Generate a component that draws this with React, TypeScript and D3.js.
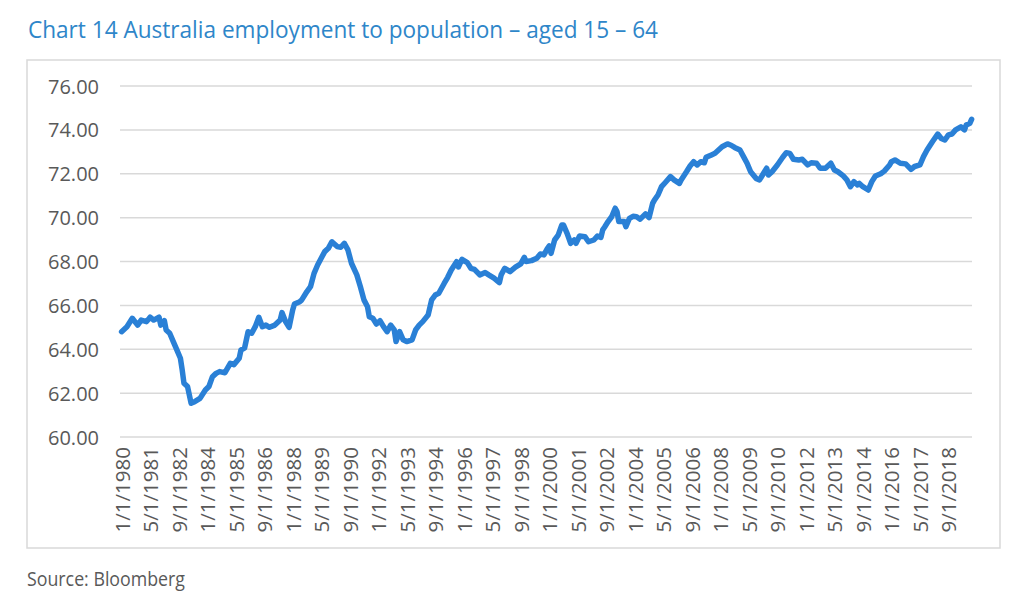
import React from "react";
import * as d3 from "d3";

const monthOffsets: number[] = [
  0, 3, 6, 9, 11, 14, 16, 18, 21, 22, 24, 25, 27, 29, 31, 33, 34, 35, 37, 39,
  41, 44, 47, 49, 51, 53, 55, 58, 61, 63, 66, 67, 69, 71, 73, 75, 77, 79, 81, 83,
  86, 89, 90, 92, 94, 96, 97, 100, 101, 104, 106, 108, 110, 112, 114, 116, 118, 121, 123, 125,
  127, 129, 132, 134, 136, 138, 139, 141, 143, 145, 147, 149, 151, 153, 154, 156, 158, 160, 163, 165,
  167, 169, 172, 174, 176, 178, 181, 183, 185, 188, 189, 191, 194, 196, 198, 201, 204, 206, 209, 212,
  213, 215, 218, 221, 224, 226, 227, 230, 233, 235, 237, 239, 240, 241, 243, 245, 247, 248, 250, 252,
  254, 255, 257, 260, 262, 265, 267, 269, 270, 271, 273, 275, 277, 278, 279, 282, 283, 285, 287, 289,
  291, 294, 296, 298, 299, 301, 303, 305, 308, 310, 313, 314, 317, 319, 321, 323, 325, 327, 328, 331,
  333, 335, 337, 340, 342, 344, 347, 349, 351, 353, 356, 358, 360, 362, 363, 365, 368, 371, 373, 375,
  377, 380, 382, 385, 387, 390, 392, 395, 398, 400, 402, 405, 407, 409, 411, 413, 414, 416, 419, 421,
  423, 426, 428, 431, 432, 434, 437, 440, 443, 445, 448, 450, 452, 455, 457, 458, 460, 462, 464, 466,
  468, 471, 473, 474, 476, 477,
];

// Employment to population ratio, aged 15-64 (%)
const rates: number[] = [
  64.8, 65.03, 65.41, 65.1, 65.33, 65.26, 65.46, 65.33, 65.46, 65.1, 65.3, 64.88, 64.73, 64.35, 63.97, 63.59, 63.06, 62.45, 62.3, 61.54,
  61.61, 61.76, 62.14, 62.3, 62.75, 62.9, 62.98, 62.93, 63.36, 63.3, 63.59, 63.97, 64.05, 64.8, 64.73, 65.03, 65.46, 65.03, 65.1, 65.0,
  65.1, 65.33, 65.67, 65.26, 65.0, 65.79, 66.06, 66.17, 66.24, 66.63, 66.85, 67.46, 67.84, 68.15, 68.45, 68.6, 68.9, 68.68, 68.65, 68.83,
  68.53, 67.92, 67.39, 66.85, 66.25, 65.94, 65.48, 65.41, 65.15, 65.3, 65.03, 64.8, 65.1, 64.88, 64.35, 64.8, 64.43, 64.35, 64.43, 64.88,
  65.1, 65.26, 65.56, 66.25, 66.47, 66.55, 67.0, 67.28, 67.61, 67.99, 67.75, 68.1, 67.95, 67.69, 67.64, 67.39, 67.5, 67.39, 67.24, 67.04,
  67.39, 67.69, 67.54, 67.74, 67.89, 68.19, 68.0, 68.04, 68.15, 68.34, 68.3, 68.6, 68.71, 68.37, 68.98, 69.2, 69.66, 69.66, 69.28, 68.83,
  68.98, 68.83, 69.16, 69.13, 68.9, 68.98, 69.16, 69.1, 69.44, 69.56, 69.82, 70.04, 70.43, 70.28, 69.82, 69.82, 69.59, 69.97, 70.06, 70.04,
  69.93, 70.17, 70.0, 70.65, 70.8, 71.03, 71.41, 71.59, 71.87, 71.72, 71.56, 71.72, 72.09, 72.35, 72.55, 72.4, 72.55, 72.5, 72.75, 72.86,
  72.93, 73.08, 73.23, 73.36, 73.3, 73.2, 73.08, 72.78, 72.48, 72.09, 71.79, 71.72, 71.99, 72.25, 71.94, 72.09, 72.4, 72.75, 72.96, 72.93,
  72.66, 72.63, 72.66, 72.4, 72.5, 72.48, 72.25, 72.25, 72.48, 72.17, 72.09, 71.9, 71.72, 71.41, 71.64, 71.49, 71.56, 71.41, 71.26, 71.64,
  71.9, 72.0, 72.12, 72.4, 72.55, 72.63, 72.48, 72.45, 72.2, 72.33, 72.4, 72.78, 73.08, 73.46, 73.69, 73.81, 73.61, 73.54, 73.77, 73.81,
  74.0, 74.14, 74.0, 74.22, 74.3, 74.48,
];

const xTickLabels: string[] = [
  "1/1/1980", "5/1/1981", "9/1/1982", "1/1/1984", "5/1/1985", "9/1/1986", "1/1/1988", "5/1/1989",
  "9/1/1990", "1/1/1992", "5/1/1993", "9/1/1994", "1/1/1996", "5/1/1997", "9/1/1998", "1/1/2000",
  "5/1/2001", "9/1/2002", "1/1/2004", "5/1/2005", "9/1/2006", "1/1/2008", "5/1/2009", "9/1/2010",
  "1/1/2012", "5/1/2013", "9/1/2014", "1/1/2016", "5/1/2017", "9/1/2018",
];
const xTickStepMonths = 16;
const yTicks: number[] = [60, 62, 64, 66, 68, 70, 72, 74, 76];

const titleText = "Chart 14 Australia employment to population \u2013 aged 15 \u2013 64";
const sourceText = "Source: Bloomberg";

export default function App() {
  const W = 1024;
  const H = 602;
  const plotLeft = 120;
  const plotRight = 972;
  const x = d3.scaleLinear().domain([0, 477]).range([121.6, 971.6]);
  const y = d3.scaleLinear().domain([60, 76]).range([437, 86]);

  const pts: [number, number][] = monthOffsets.map((m, i) => [m, rates[i]]);
  const line = d3
    .line<[number, number]>()
    .x((d) => x(d[0]))
    .y((d) => y(d[1]));

  const font = "'Open Sans', 'Noto Sans', sans-serif";

  return (
    <div style={{ position: "absolute", left: 0, top: 0 }}>
      <svg width={W} height={H} style={{ display: "block", background: "#fff" }}>
        <text
          x={28}
          y={38}
          fontFamily={font}
          fontSize={23.5}
          fill="#2E86C9"
          textLength={630}
          lengthAdjust="spacingAndGlyphs"
        >
          {titleText}
        </text>
        <rect x={27} y={60} width={973} height={488} fill="none" stroke="#D9D9D9" strokeWidth={1.5} />
        {yTicks.map((t) => (
          <g key={t}>
            <line x1={plotLeft} x2={plotRight} y1={y(t)} y2={y(t)} stroke="#D9D9D9" strokeWidth={1.5} />
            <text
              x={99}
              y={y(t)}
              textAnchor="end"
              dominantBaseline="central"
              fontFamily={font}
              fontSize={20}
              fill="#595959"
            >
              {t.toFixed(2)}
            </text>
          </g>
        ))}
        {xTickLabels.map((lab, i) => {
          const px = x(i * xTickStepMonths);
          return (
            <text
              key={lab}
              transform={`translate(${px},447) rotate(-90)`}
              textAnchor="end"
              dominantBaseline="central"
              fontFamily={font}
              fontSize={20.5}
              fill="#595959"
            >
              {lab}
            </text>
          );
        })}
        <path
          d={line(pts) || ""}
          fill="none"
          stroke="#2A80D6"
          strokeWidth={5.5}
          strokeLinejoin="round"
          strokeLinecap="round"
        />
        <text
          x={27}
          y={586}
          fontFamily={font}
          fontSize={19.5}
          fill="#595959"
          textLength={158}
          lengthAdjust="spacingAndGlyphs"
        >
          {sourceText}
        </text>
      </svg>
    </div>
  );
}
